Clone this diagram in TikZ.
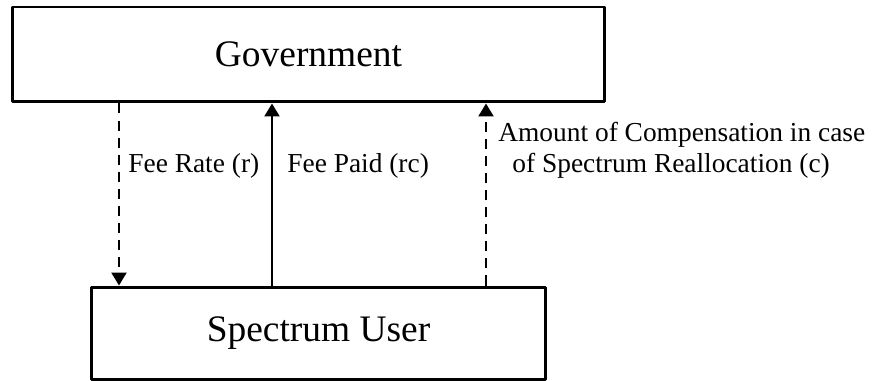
\documentclass[tikz,border=0pt]{standalone}
\usepackage{fontspec}
\setmainfont{Liberation Serif}
\usetikzlibrary{arrows.meta,calc}
\tikzset{
  entity/.style={draw,line width=1.7pt,inner sep=0pt,font=\fontsize{21.3}{25}\selectfont},
  flow/.style={line width=1.4pt,-{Triangle[length=7.4pt,width=8.5pt]}},
  flowdash/.style={flow,dash pattern=on 5.7pt off 4pt},
  flowlabel/.style={inner sep=0pt,anchor=base west,font=\fontsize{15.6}{18}\selectfont}
}
\begin{document}
\begin{tikzpicture}[x=0.02cm,y=-0.02cm,line join=round]
  \useasboundingbox (0,0) rectangle (879,381);
  \node[entity,minimum width=11.86cm,minimum height=1.9cm] (gov) at (308.5,54.5) {Government};
  \node[entity,minimum width=9.1cm,minimum height=1.86cm] (user) at (318.5,333.5) {Spectrum User};
  \coordinate (rate) at (119,0); \coordinate (paid) at (272,0); \coordinate (comp) at (486,0);
  \draw[flowdash] (gov.south -| rate) -- (user.north -| rate);
  \draw[flow] (user.north -| paid) -- (gov.south -| paid);
  \draw[flowdash] (user.north -| comp) -- (gov.south -| comp);
  \node[flowlabel] (ratelbl) at (128,173) {Fee Rate (r)};
  \node[flowlabel] (paidlbl) at (287,173) {Fee Paid (rc)};
  \node[flowlabel,align=left] (complbl) at (498,173) {Amount of Compensation in case\\\hspace*{8pt}of Spectrum Reallocation (c)};
\end{tikzpicture}
\end{document}
